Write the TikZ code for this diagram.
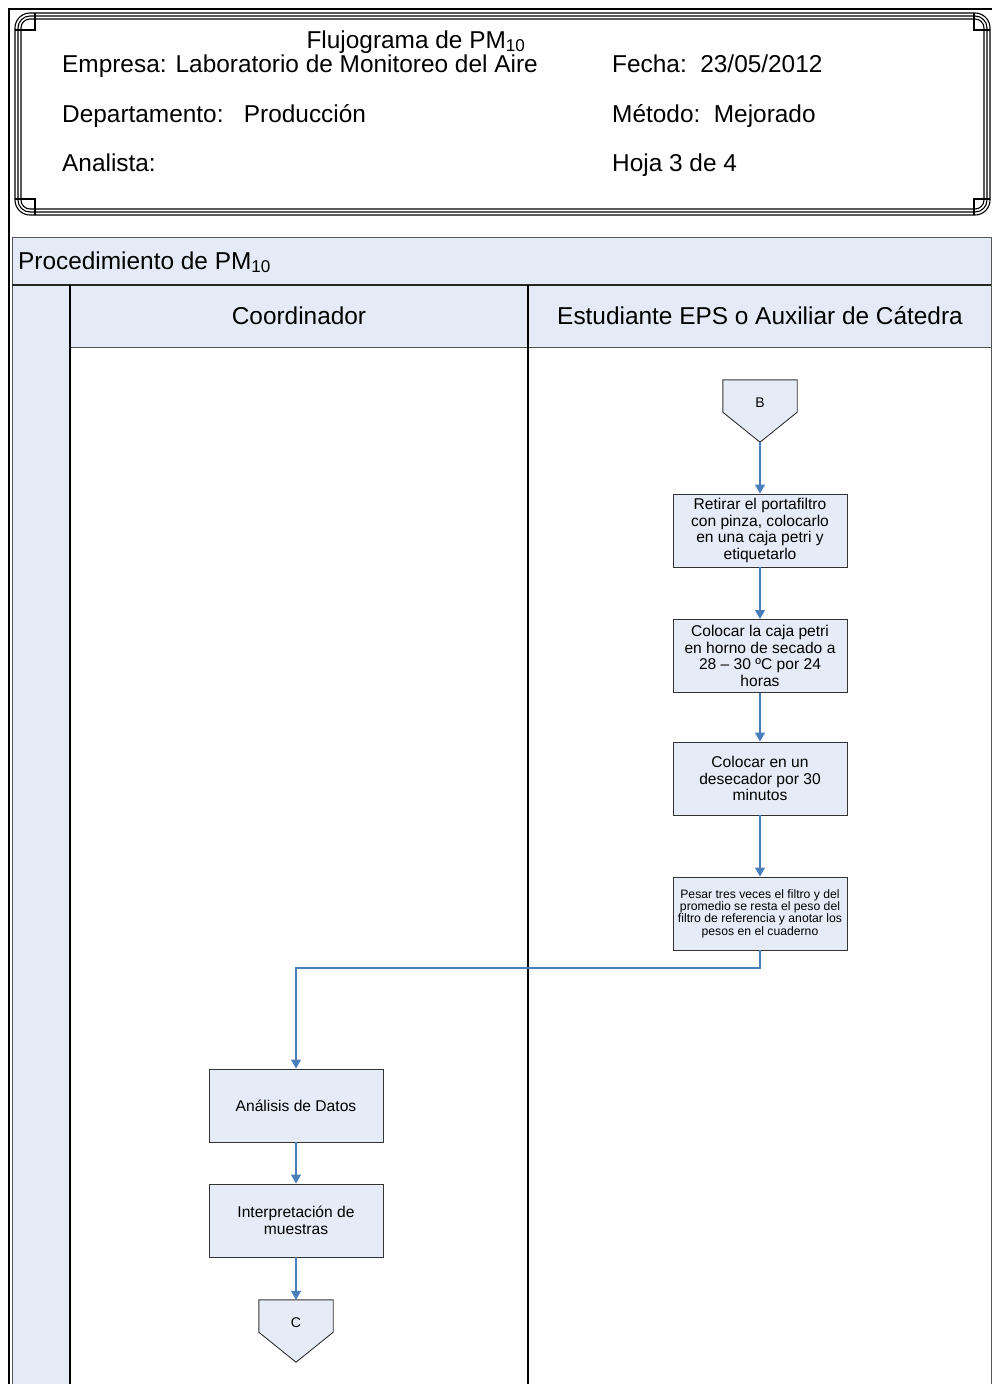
\documentclass[tikz,border=0pt]{standalone}
\usepackage{fontspec}
\setmainfont{Liberation Sans}
\usetikzlibrary{arrows.meta}

\definecolor{lanefill}{HTML}{E4EBF6}
\definecolor{boxfill}{HTML}{E6ECF7}
\definecolor{flowblue}{HTML}{4A7EBB}
\definecolor{poolline}{HTML}{555555}

\tikzset{
  big/.style={font=\fontsize{24.4}{28}\selectfont},
  hdr/.style={big, anchor=base west, inner sep=0pt},
  frameline/.style={draw=black, line width=1.1pt},
  box/.style={draw=black!80, line width=0.9pt, fill=boxfill, minimum width=174pt,
    minimum height=73pt, align=center, inner sep=0pt,
    font=\fontsize{15.6}{16.7}\selectfont},
  smallbox/.style={box, font=\fontsize{12.2}{12.4}\selectfont},
  offpage/.style={minimum width=74pt, minimum height=62pt, inner sep=0pt},
  flow/.style={draw=flowblue, line width=1.1pt, -{Triangle[length=9pt,width=10pt]}},
}

\newcommand{\offpagefill}[1]{%
  \path[draw=black!80, line width=0.9pt, fill=boxfill]
    (#1.north west) -- (#1.north east) -- ([yshift=30pt]#1.south east)
    -- (#1.south) -- ([yshift=30pt]#1.south west) -- cycle;}

\begin{document}
\begin{tikzpicture}[x=1pt, y=-1pt]
\useasboundingbox (0,0) rectangle (992,1384);

% page border (top and left)
\draw[black, line width=2.6pt] (9,1384) -- (9,9) -- (992,9);

% ---------- header frame ----------
\draw[frameline, rounded corners=15pt] (15,13) rectangle (990,215);
\draw[frameline, rounded corners=12pt] (18,16) rectangle (987,212);
\draw[frameline, rounded corners=9pt] (21,19) rectangle (984,209);
\draw[frameline] (15,30) -- (35,30) -- (35,13);
\draw[frameline] (990,30) -- (974,30) -- (974,13);
\draw[frameline] (15,199) -- (35,199) -- (35,215);
\draw[frameline] (990,199) -- (974,199) -- (974,215);

\node[big, inner sep=0pt, anchor=base] (title) at (416,48) {Flujograma de PM\textsubscript{10}};
\node[hdr] (empresa) at (62,72) {Empresa: Laboratorio de Monitoreo del Aire};
\node[hdr] (fecha) at (612,72) {Fecha:\ \ 23/05/2012};
\node[hdr] (depto) at (62,122) {Departamento:\ \ \ Producción};
\node[hdr] (metodo) at (612,122) {Método:\ \ Mejorado};
\node[hdr] (analista) at (62,171) {Analista:};
\node[hdr] (hoja) at (612,171) {Hoja 3 de 4};

% ---------- swimlane pool ----------
\fill[lanefill] (12,237) rectangle (991,285);
\fill[lanefill] (70,285) rectangle (991,347);
\fill[lanefill] (12,285) rectangle (70,1384);
\draw[poolline, line width=1pt] (12,1384) -- (12,237) -- (991,237) -- (991,1384);
\draw[black!85, line width=1.4pt] (12,285) -- (991,285);
\draw[poolline, line width=1pt] (70,347) -- (991,347);
\draw[black, line width=1.6pt] (70,285) -- (70,1384);
\draw[black, line width=1.6pt] (528,285) -- (528,1384);

\node[hdr] (pool) at (18,269) {Procedimiento de PM\textsubscript{10}};
\node[big, inner sep=0pt, anchor=base] (lane1) at (299,324) {Coordinador};
\node[big, inner sep=0pt, anchor=base] (lane2) at (760,324) {Estudiante EPS o Auxiliar de Cátedra};

% ---------- flow ----------
\node[offpage] (B) at (760,411) {};
\offpagefill{B}
\node[font=\fontsize{14}{16}\selectfont] (Bt) at (760,403) {B};

\node[box] (b1) at (760,530.5) {Retirar el portafiltro\\con pinza, colocarlo\\en una caja petri y\\etiquetarlo};
\node[box] (b2) at (760,656) {Colocar la caja petri\\en horno de secado a\\28 – 30 ºC por 24\\horas};
\node[box] (b3) at (760,778.5) {Colocar en un\\desecador por 30\\minutos};
\node[smallbox] (b4) at (760,913.5) {Pesar tres veces el filtro y del\\promedio se resta el peso del\\filtro de referencia y anotar los\\pesos en el cuaderno};

\node[box] (b5) at (296,1105.5) {Análisis de Datos};
\node[box] (b6) at (296,1220.5) {Interpretación de\\muestras};

\node[offpage] (C) at (296,1331) {};
\offpagefill{C}
\node[font=\fontsize{14}{16}\selectfont] (Ct) at (296,1323) {C};

\coordinate (bend) at (296,968);

\draw[flow] (B.south) -- (b1.north);
\draw[flow] (b1.south) -- (b2.north);
\draw[flow] (b2.south) -- (b3.north);
\draw[flow] (b3.south) -- (b4.north);
\draw[flow] (b4.south) |- (bend) -- (b5.north);
\draw[flow] (b5.south) -- (b6.north);
\draw[flow] (b6.south) -- (C.north);
\end{tikzpicture}
\end{document}
